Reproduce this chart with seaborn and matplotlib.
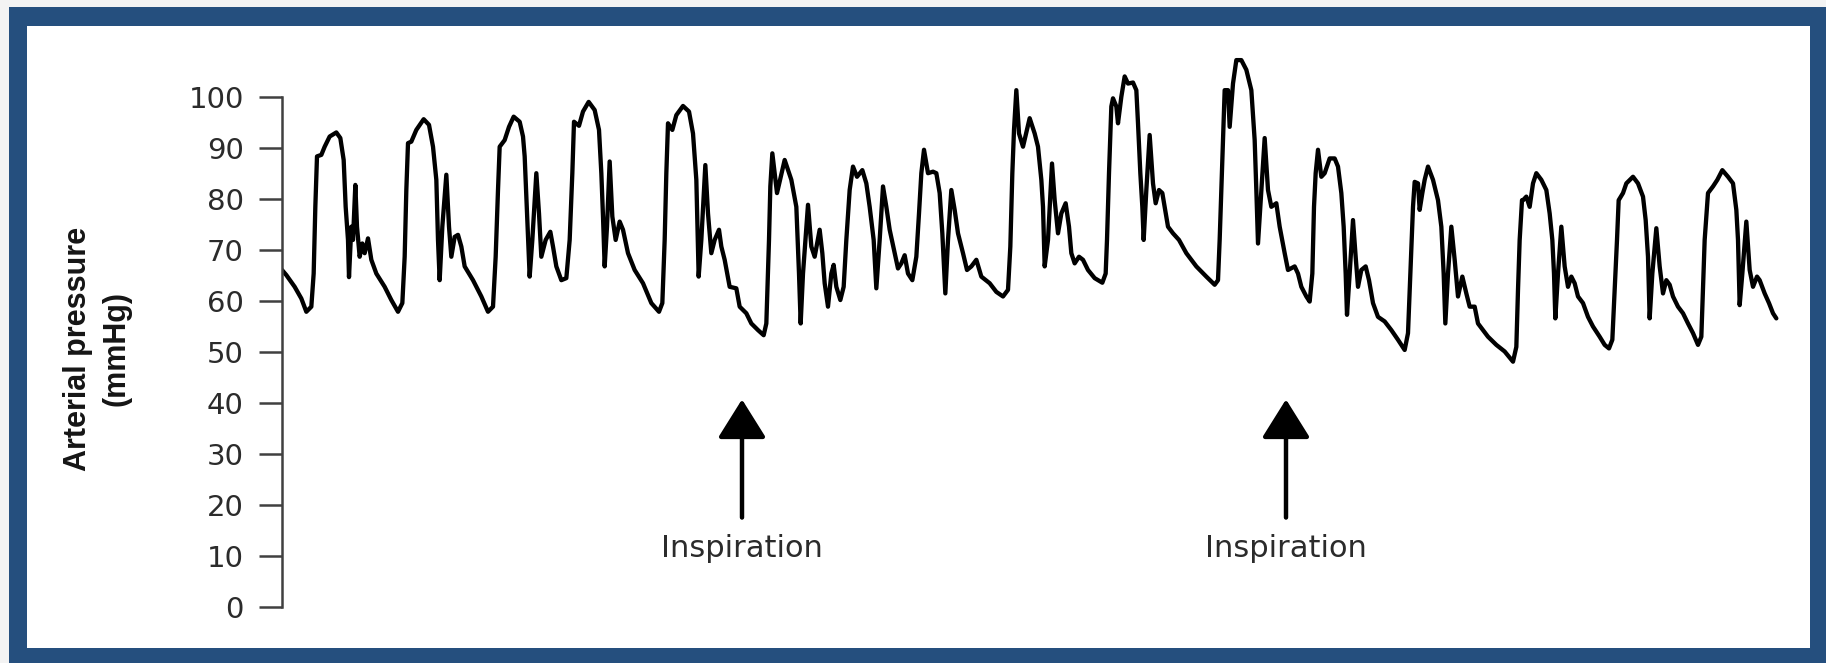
import matplotlib
matplotlib.use("Agg")
import matplotlib.pyplot as plt
from matplotlib import font_manager
from matplotlib.patches import Rectangle
import numpy as np
import pandas as pd
import seaborn as sns

# ---- data ---------------------------------------------------------------
SAMPLE_RATE_HZ = 300

sample_idx = [
    0, 13, 38, 58, 73, 88, 95, 100, 105, 118, 128, 143, 163, 175, 185, 191, 198, 201, 208, 213,
    220, 225, 233, 241, 248, 258, 268, 283, 308, 328, 348, 361, 368, 373, 378, 388, 403, 425, 441, 453,
    463, 468, 473, 481, 493, 501, 508, 518, 528, 538, 548, 573, 598, 618, 633, 641, 648, 653, 668, 681,
    695, 713,
    723, 728, 735, 743, 751, 763, 771, 778, 791, 805, 813, 823, 838, 853, 863, 871, 876, 891, 903, 920,
    938, 951, 958, 963, 968, 975, 983, 991, 1001, 1013, 1023, 1038, 1058, 1083, 1108, 1131, 1141, 1148, 1153, 1158,
    1171, 1183, 1203, 1221, 1233, 1243, 1250, 1258, 1270, 1278, 1288, 1298, 1311, 1318, 1328, 1343, 1363, 1373, 1393, 1408,
    1428, 1445, 1453, 1461, 1465,
    1471, 1485, 1508, 1528, 1543, 1551, 1556, 1563, 1578, 1588, 1598, 1613, 1621, 1628, 1638, 1648, 1655, 1663, 1675, 1685,
    1693, 1703, 1713, 1725, 1741, 1753, 1763, 1775, 1783, 1793, 1803, 1813, 1823, 1838, 1848, 1858, 1868, 1878, 1891, 1903,
    1911, 1918, 1926, 1938, 1953, 1963, 1973, 1981, 1990, 1998, 2008, 2018, 2028, 2043, 2055, 2068, 2083, 2098, 2123, 2143,
    2163, 2178, 2185, 2191, 2196, 2203, 2211, 2223,
    2243, 2258, 2268, 2278, 2283, 2288, 2298, 2310, 2318, 2328, 2338, 2351, 2361, 2368, 2378, 2391, 2403, 2418, 2438, 2461,
    2471, 2475, 2481, 2488, 2493, 2503, 2508, 2518, 2528, 2538, 2553, 2563, 2568, 2575, 2581, 2585, 2593, 2603, 2613, 2621,
    2631, 2641, 2648, 2658, 2673, 2691, 2713, 2743, 2773, 2798, 2808, 2813, 2818, 2823, 2828, 2838, 2843, 2853, 2863, 2878,
    2893, 2908, 2918, 2923, 2928, 2938, 2948, 2958, 2968,
    2983, 2993, 3008, 3018, 3038, 3048, 3058, 3073, 3083, 3091, 3096, 3101, 3108, 3118, 3128, 3143, 3158, 3168, 3178, 3185,
    3191, 3195, 3203, 3213, 3221, 3228, 3238, 3251, 3261, 3273, 3288, 3308, 3328, 3348, 3368, 3378, 3385, 3393, 3398, 3408,
    3413, 3421, 3428, 3438, 3453, 3468, 3478, 3485, 3490, 3498, 3508, 3518, 3528, 3541, 3553, 3563, 3578, 3588, 3603, 3618,
    3643, 3668, 3693, 3703, 3708, 3713, 3720,
    3723, 3733, 3743, 3753, 3763, 3778, 3793, 3803, 3811, 3816, 3820, 3828, 3838, 3848, 3858, 3868, 3878, 3888, 3903, 3918,
    3933, 3953, 3968, 3981, 3991, 3998, 4005, 4010, 4023, 4033, 4053, 4068, 4083, 4091, 4098, 4103, 4111, 4123, 4133, 4143,
    4153, 4163, 4173, 4188, 4203, 4218, 4233, 4248, 4258, 4263, 4268, 4278, 4293, 4306, 4321, 4338, 4353, 4363, 4368, 4373,
    4381, 4393, 4403, 4413, 4425, 4433, 4448, 4461, 4473, 4483,
]

pressure_mmhg = [
    66.1, 65.1, 62.8, 60.5, 57.9, 58.9, 65.4, 78.5, 88.4, 88.7, 90.3, 92.3, 93.1, 92.0, 87.7, 78.5, 72.0, 64.7, 74.6, 72.0,
    82.8, 74.6, 68.7, 71.3, 69.4, 72.3, 68.1, 65.4, 62.8, 60.2, 57.9, 59.6, 68.7, 81.8, 91.0, 91.3, 93.6, 95.7, 94.6, 90.3,
    83.8, 72.0, 64.1, 74.6, 84.8, 74.6, 68.7, 72.6, 73.0, 70.7, 66.8, 64.1, 60.9, 57.9, 58.9, 68.7, 81.8, 90.3, 91.6, 94.2,
    96.2, 95.2,
    92.3, 88.4, 77.2, 64.8, 72.0, 85.1, 77.2, 68.7, 72.0, 73.6, 70.7, 66.8, 64.1, 64.5, 72.0, 85.1, 95.2, 94.4, 97.2, 99.1,
    97.5, 93.6, 85.1, 76.6, 66.8, 74.6, 87.4, 76.6, 72.0, 75.6, 74.0, 69.4, 66.1, 63.5, 59.6, 57.9, 59.6, 72.0, 85.1, 94.9,
    93.6, 96.5, 98.3, 97.2, 92.9, 83.8, 64.8, 72.0, 86.7, 77.2, 69.4, 72.0, 74.0, 70.7, 68.1, 62.8, 62.5, 58.9, 57.6, 55.6,
    54.3, 53.3, 55.6, 72.0, 82.5,
    89.0, 81.2, 87.7, 83.8, 78.5, 65.4, 55.6, 65.4, 78.9, 70.7, 68.7, 74.0, 69.4, 63.5, 58.9, 65.4, 67.1, 62.8, 60.2, 62.8,
    72.0, 81.8, 86.4, 84.4, 85.7, 83.1, 78.5, 72.0, 62.5, 72.0, 82.5, 78.5, 74.0, 69.4, 66.4, 67.4, 69.0, 65.4, 64.1, 68.7,
    77.2, 85.1, 89.7, 85.1, 85.4, 85.1, 81.2, 73.3, 61.5, 72.0, 81.8, 77.9, 73.3, 69.4, 66.1, 66.8, 68.1, 64.8, 63.5, 61.8,
    60.9, 62.2, 70.7, 85.1, 93.6, 101.4, 92.9, 90.3,
    95.9, 92.9, 90.3, 83.8, 78.5, 66.8, 72.0, 87.0, 79.8, 73.3, 77.2, 79.2, 74.6, 69.4, 67.4, 68.7, 68.1, 66.1, 64.5, 63.6,
    65.4, 72.0, 85.1, 98.2, 99.8, 98.2, 94.9, 100.1, 104.1, 102.7, 102.9, 101.4, 94.9, 85.1, 78.5, 72.0, 81.8, 92.6, 83.1, 79.2,
    81.8, 81.2, 78.5, 74.6, 73.3, 72.0, 69.4, 66.8, 64.8, 63.2, 64.1, 72.0, 81.8, 91.6, 101.4, 101.4, 94.2, 102.7, 107.3, 107.3,
    105.4, 101.4, 91.6, 81.8, 71.3, 81.8, 92.0, 81.8, 78.5,
    79.2, 74.6, 69.4, 66.1, 66.8, 65.4, 62.8, 60.9, 59.9, 65.4, 78.5, 85.1, 89.7, 84.4, 85.1, 88.0, 88.0, 86.4, 81.2, 74.6,
    65.4, 57.3, 65.4, 75.9, 68.7, 62.8, 66.1, 66.8, 64.1, 59.6, 56.9, 56.0, 54.3, 52.4, 50.4, 53.7, 65.4, 78.5, 83.4, 83.1,
    77.9, 81.2, 83.8, 86.4, 83.8, 79.8, 74.6, 65.4, 55.6, 65.4, 74.6, 68.1, 60.9, 64.8, 61.5, 58.9, 58.9, 55.6, 54.3, 53.0,
    51.4, 50.1, 48.1, 51.0, 62.2, 72.0, 79.8,
    79.8, 80.5, 78.5, 83.1, 85.1, 83.8, 81.8, 77.2, 72.0, 65.4, 56.6, 65.4, 74.6, 66.8, 62.8, 64.8, 63.5, 60.9, 59.6, 56.9,
    55.0, 53.0, 51.4, 50.7, 52.4, 62.2, 72.0, 79.8, 81.2, 83.1, 84.4, 83.1, 80.5, 75.9, 68.7, 56.6, 65.4, 74.3, 66.8, 61.5,
    64.1, 63.2, 60.9, 58.9, 57.6, 55.6, 53.7, 51.4, 53.0, 62.2, 72.0, 81.2, 82.5, 83.8, 85.7, 84.4, 83.1, 77.9, 72.0, 59.2,
    65.4, 75.6, 66.1, 62.8, 64.8, 64.1, 61.5, 59.6, 57.6, 56.6,
]

y_ticks = [0, 10, 20, 30, 40, 50, 60, 70, 80, 90, 100]
inspiration_times_s = [4.60, 10.04]
inspiration_label = "Inspiration"
y_label = "Arterial pressure\n(mmHg)"

trace = pd.DataFrame({
    "time_s": np.asarray(sample_idx) / SAMPLE_RATE_HZ,
    "pressure": pressure_mmhg,
})

# ---- style --------------------------------------------------------------
sns.set_theme(style="white")
plt.rcParams["font.family"] = ["DejaVu Sans"]

FRAME_BLUE = "#254f7e"
INK = "#2b2b2b"


def font_available(name, weight="bold"):
    try:
        font_manager.findfont(font_manager.FontProperties(family=name, weight=weight),
                              fallback_to_default=False)
        return True
    except ValueError:
        return False


W, H = 1826, 663
fig = plt.figure(figsize=(W / 100, H / 100), dpi=100, facecolor="#f3f3f3")

# blue frame around the panel (kept behind the axes)
fig.patches.append(Rectangle((9 / W, 0), 1 - 9 / W, (H - 7) / H,
                             transform=fig.transFigure, facecolor=FRAME_BLUE,
                             edgecolor="none", zorder=-2))
fig.patches.append(Rectangle((27 / W, 15 / H), (1810 - 27) / W, (648 - 26) / H,
                             transform=fig.transFigure, facecolor="white",
                             edgecolor="none", zorder=-1))

ax = fig.add_axes([282 / W, (H - 606.7) / H, 1510 / W, 110 * 5.094 / H])
ax.set_facecolor("none")

sns.lineplot(data=trace, x="time_s", y="pressure", sort=False, estimator=None,
             color="black", linewidth=3.1, ax=ax)
ax.lines[0].set_solid_joinstyle("round")

ax.set_xlim(0, 15.1)
ax.set_ylim(0, 110)
ax.set_xlabel("")
ax.set_xticks([])
ax.set_yticks(y_ticks)
ax.set_yticklabels([str(v) for v in y_ticks])

for side in ("top", "right", "bottom"):
    ax.spines[side].set_visible(False)
ax.spines["left"].set_bounds(0, 100)
ax.spines["left"].set_color("#404040")
ax.spines["left"].set_linewidth(1.8)
ax.tick_params(axis="y", direction="out", length=16.5, width=1.8, pad=11,
               color="#404040", labelcolor=INK, labelsize=21, left=True)

# y-axis title
if font_available("Liberation Sans"):
    label_family, label_size, label_spacing = "Liberation Sans", 22, 1.35
else:
    label_family, label_size, label_spacing = "DejaVu Sans", 17.6, 1.7
ax.set_ylabel(y_label, family=label_family, fontsize=label_size, fontweight="bold",
              linespacing=label_spacing, color="#151515", va="center", ha="center")
ax.yaxis.set_label_coords(-0.1225, 0.46)

# inspiration markers
for t in inspiration_times_s:
    ax.annotate("", xy=(t, 40.7), xytext=(t, 17.5),
                arrowprops=dict(arrowstyle="-|>,head_length=1.2,head_width=0.75",
                                mutation_scale=20, lw=3.2, color="black",
                                shrinkA=0, shrinkB=0))
    ax.text(t, 11.5, inspiration_label, ha="center", va="center",
            fontsize=22, color=INK)

fig.savefig("out.png", dpi=100, facecolor=fig.get_facecolor())
